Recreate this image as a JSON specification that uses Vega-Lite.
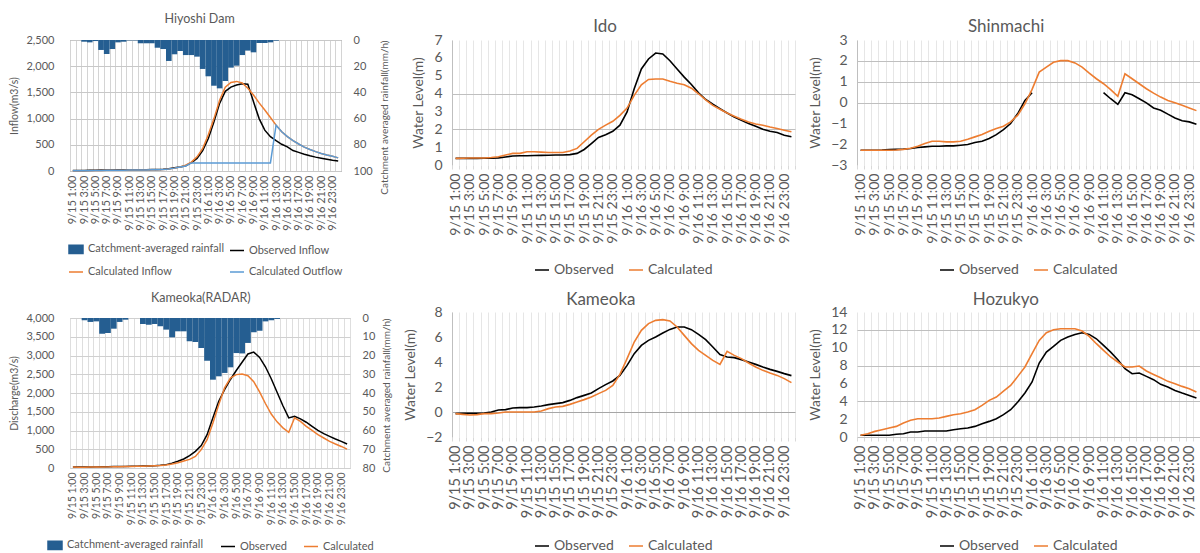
{
  "$schema": "https://vega.github.io/schema/vega-lite/v6.json",
  "background": "white",
  "padding": {"left": 9, "top": 12, "right": 0, "bottom": 0},
  "spacing": 10,
  "resolve": {"scale": {"color": "independent"}, "legend": {"color": "independent"}},
  "datasets": {
    "hiyoshi": [
      {"h":1,"rain":0,"Observed Inflow":10,"Calculated Inflow":5,"Calculated Outflow":5},
      {"h":2,"rain":0,"Observed Inflow":10,"Calculated Inflow":5,"Calculated Outflow":5},
      {"h":3,"rain":1.3,"Observed Inflow":10,"Calculated Inflow":5,"Calculated Outflow":5},
      {"h":4,"rain":1.8,"Observed Inflow":12,"Calculated Inflow":6,"Calculated Outflow":6},
      {"h":5,"rain":0.8,"Observed Inflow":14,"Calculated Inflow":8,"Calculated Outflow":8},
      {"h":6,"rain":7.6,"Observed Inflow":17,"Calculated Inflow":10,"Calculated Outflow":10},
      {"h":7,"rain":10.7,"Observed Inflow":19,"Calculated Inflow":12,"Calculated Outflow":12},
      {"h":8,"rain":6.9,"Observed Inflow":21,"Calculated Inflow":14,"Calculated Outflow":14},
      {"h":9,"rain":1.8,"Observed Inflow":22,"Calculated Inflow":15,"Calculated Outflow":15},
      {"h":10,"rain":1.3,"Observed Inflow":22,"Calculated Inflow":16,"Calculated Outflow":16},
      {"h":11,"rain":0.3,"Observed Inflow":22,"Calculated Inflow":17,"Calculated Outflow":17},
      {"h":12,"rain":0.3,"Observed Inflow":22,"Calculated Inflow":18,"Calculated Outflow":18},
      {"h":13,"rain":2.5,"Observed Inflow":23,"Calculated Inflow":19,"Calculated Outflow":19},
      {"h":14,"rain":2.5,"Observed Inflow":25,"Calculated Inflow":20,"Calculated Outflow":20},
      {"h":15,"rain":2.5,"Observed Inflow":27,"Calculated Inflow":22,"Calculated Outflow":22},
      {"h":16,"rain":5.9,"Observed Inflow":30,"Calculated Inflow":25,"Calculated Outflow":25},
      {"h":17,"rain":6.9,"Observed Inflow":35,"Calculated Inflow":30,"Calculated Outflow":30},
      {"h":18,"rain":16,"Observed Inflow":45,"Calculated Inflow":40,"Calculated Outflow":40},
      {"h":19,"rain":10.9,"Observed Inflow":60,"Calculated Inflow":55,"Calculated Outflow":55},
      {"h":20,"rain":8.4,"Observed Inflow":75,"Calculated Inflow":75,"Calculated Outflow":75},
      {"h":21,"rain":11.5,"Observed Inflow":100,"Calculated Inflow":110,"Calculated Outflow":95},
      {"h":22,"rain":11.5,"Observed Inflow":160,"Calculated Inflow":170,"Calculated Outflow":155},
      {"h":23,"rain":12.7,"Observed Inflow":240,"Calculated Inflow":270,"Calculated Outflow":155},
      {"h":24,"rain":22.1,"Observed Inflow":390,"Calculated Inflow":430,"Calculated Outflow":155},
      {"h":25,"rain":27.7,"Observed Inflow":620,"Calculated Inflow":690,"Calculated Outflow":155},
      {"h":26,"rain":34.9,"Observed Inflow":940,"Calculated Inflow":1000,"Calculated Outflow":155},
      {"h":27,"rain":36.9,"Observed Inflow":1290,"Calculated Inflow":1350,"Calculated Outflow":155},
      {"h":28,"rain":31.3,"Observed Inflow":1520,"Calculated Inflow":1600,"Calculated Outflow":155},
      {"h":29,"rain":21.1,"Observed Inflow":1600,"Calculated Inflow":1690,"Calculated Outflow":155},
      {"h":30,"rain":19.6,"Observed Inflow":1640,"Calculated Inflow":1710,"Calculated Outflow":155},
      {"h":31,"rain":11.5,"Observed Inflow":1665,"Calculated Inflow":1680,"Calculated Outflow":155},
      {"h":32,"rain":8.1,"Observed Inflow":1655,"Calculated Inflow":1580,"Calculated Outflow":155},
      {"h":33,"rain":9.4,"Observed Inflow":1320,"Calculated Inflow":1450,"Calculated Outflow":155},
      {"h":34,"rain":2.3,"Observed Inflow":1000,"Calculated Inflow":1300,"Calculated Outflow":155},
      {"h":35,"rain":2.3,"Observed Inflow":780,"Calculated Inflow":1165,"Calculated Outflow":155},
      {"h":36,"rain":1.8,"Observed Inflow":655,"Calculated Inflow":1020,"Calculated Outflow":155},
      {"h":37,"rain":0.5,"Observed Inflow":580,"Calculated Inflow":875,"Calculated Outflow":875},
      {"h":38,"rain":0,"Observed Inflow":510,"Calculated Inflow":750,"Calculated Outflow":750},
      {"h":39,"rain":0,"Observed Inflow":460,"Calculated Inflow":655,"Calculated Outflow":655},
      {"h":40,"rain":0,"Observed Inflow":390,"Calculated Inflow":580,"Calculated Outflow":580},
      {"h":41,"rain":0,"Observed Inflow":355,"Calculated Inflow":515,"Calculated Outflow":515},
      {"h":42,"rain":0,"Observed Inflow":320,"Calculated Inflow":455,"Calculated Outflow":455},
      {"h":43,"rain":0,"Observed Inflow":290,"Calculated Inflow":410,"Calculated Outflow":410},
      {"h":44,"rain":0,"Observed Inflow":265,"Calculated Inflow":370,"Calculated Outflow":370},
      {"h":45,"rain":0,"Observed Inflow":245,"Calculated Inflow":335,"Calculated Outflow":335},
      {"h":46,"rain":0,"Observed Inflow":225,"Calculated Inflow":305,"Calculated Outflow":305},
      {"h":47,"rain":0,"Observed Inflow":205,"Calculated Inflow":280,"Calculated Outflow":280},
      {"h":48,"rain":0,"Observed Inflow":190,"Calculated Inflow":250,"Calculated Outflow":250}
    ],
    "radar": [
      {"h":1,"rain":0,"Observed":25,"Calculated":25},
      {"h":2,"rain":0,"Observed":25,"Calculated":22},
      {"h":3,"rain":1.2,"Observed":27,"Calculated":22},
      {"h":4,"rain":2.1,"Observed":28,"Calculated":24},
      {"h":5,"rain":1.8,"Observed":30,"Calculated":25},
      {"h":6,"rain":8.4,"Observed":33,"Calculated":27},
      {"h":7,"rain":8,"Observed":36,"Calculated":30},
      {"h":8,"rain":5.7,"Observed":38,"Calculated":33},
      {"h":9,"rain":2.1,"Observed":40,"Calculated":36},
      {"h":10,"rain":0.9,"Observed":43,"Calculated":39},
      {"h":11,"rain":0,"Observed":45,"Calculated":42},
      {"h":12,"rain":0,"Observed":48,"Calculated":45},
      {"h":13,"rain":3.2,"Observed":52,"Calculated":48},
      {"h":14,"rain":3.6,"Observed":56,"Calculated":52},
      {"h":15,"rain":3.2,"Observed":62,"Calculated":58},
      {"h":16,"rain":4.4,"Observed":72,"Calculated":66},
      {"h":17,"rain":6.2,"Observed":90,"Calculated":80},
      {"h":18,"rain":10.3,"Observed":130,"Calculated":105},
      {"h":19,"rain":7.1,"Observed":180,"Calculated":140},
      {"h":20,"rain":7.1,"Observed":240,"Calculated":185},
      {"h":21,"rain":12.4,"Observed":330,"Calculated":230},
      {"h":22,"rain":12.8,"Observed":445,"Calculated":310},
      {"h":23,"rain":16,"Observed":600,"Calculated":490},
      {"h":24,"rain":22.8,"Observed":890,"Calculated":755},
      {"h":25,"rain":32.9,"Observed":1340,"Calculated":1200},
      {"h":26,"rain":31.1,"Observed":1780,"Calculated":1690},
      {"h":27,"rain":29.3,"Observed":2090,"Calculated":2135},
      {"h":28,"rain":26.3,"Observed":2360,"Calculated":2400},
      {"h":29,"rain":18.7,"Observed":2600,"Calculated":2490},
      {"h":30,"rain":18.9,"Observed":2820,"Calculated":2505},
      {"h":31,"rain":13.3,"Observed":3040,"Calculated":2460},
      {"h":32,"rain":7.6,"Observed":3090,"Calculated":2300},
      {"h":33,"rain":6.8,"Observed":2950,"Calculated":2030},
      {"h":34,"rain":1.8,"Observed":2700,"Calculated":1720},
      {"h":35,"rain":1.2,"Observed":2380,"Calculated":1440},
      {"h":36,"rain":0.5,"Observed":2020,"Calculated":1230},
      {"h":37,"rain":0,"Observed":1660,"Calculated":1070},
      {"h":38,"rain":0,"Observed":1335,"Calculated":950},
      {"h":39,"rain":0,"Observed":1380,"Calculated":1340},
      {"h":40,"rain":0,"Observed":1310,"Calculated":1245},
      {"h":41,"rain":0,"Observed":1220,"Calculated":1110},
      {"h":42,"rain":0,"Observed":1110,"Calculated":1005},
      {"h":43,"rain":0,"Observed":1005,"Calculated":890},
      {"h":44,"rain":0,"Observed":915,"Calculated":800},
      {"h":45,"rain":0,"Observed":845,"Calculated":710},
      {"h":46,"rain":0,"Observed":775,"Calculated":640},
      {"h":47,"rain":0,"Observed":710,"Calculated":575},
      {"h":48,"rain":0,"Observed":640,"Calculated":505}
    ],
    "ido": [
      {"h":1,"Observed":0.37,"Calculated":0.37},{"h":2,"Observed":0.37,"Calculated":0.38},
      {"h":3,"Observed":0.37,"Calculated":0.39},{"h":4,"Observed":0.37,"Calculated":0.39},
      {"h":5,"Observed":0.38,"Calculated":0.39},{"h":6,"Observed":0.38,"Calculated":0.42},
      {"h":7,"Observed":0.4,"Calculated":0.46},{"h":8,"Observed":0.45,"Calculated":0.56},
      {"h":9,"Observed":0.5,"Calculated":0.65},{"h":10,"Observed":0.52,"Calculated":0.65},
      {"h":11,"Observed":0.52,"Calculated":0.74},{"h":12,"Observed":0.53,"Calculated":0.74},
      {"h":13,"Observed":0.54,"Calculated":0.72},{"h":14,"Observed":0.55,"Calculated":0.7},
      {"h":15,"Observed":0.56,"Calculated":0.7},{"h":16,"Observed":0.56,"Calculated":0.7},
      {"h":17,"Observed":0.58,"Calculated":0.78},{"h":18,"Observed":0.65,"Calculated":0.93},
      {"h":19,"Observed":0.87,"Calculated":1.3},{"h":20,"Observed":1.2,"Calculated":1.67},
      {"h":21,"Observed":1.54,"Calculated":2.0},{"h":22,"Observed":1.7,"Calculated":2.23},
      {"h":23,"Observed":1.89,"Calculated":2.45},{"h":24,"Observed":2.23,"Calculated":2.78},
      {"h":25,"Observed":2.97,"Calculated":3.19},{"h":26,"Observed":4.27,"Calculated":3.9},
      {"h":27,"Observed":5.38,"Calculated":4.49},{"h":28,"Observed":5.94,"Calculated":4.79},
      {"h":29,"Observed":6.27,"Calculated":4.82},{"h":30,"Observed":6.22,"Calculated":4.82},
      {"h":31,"Observed":5.84,"Calculated":4.69},{"h":32,"Observed":5.38,"Calculated":4.58},
      {"h":33,"Observed":4.92,"Calculated":4.49},{"h":34,"Observed":4.51,"Calculated":4.3},
      {"h":35,"Observed":4.04,"Calculated":3.99},{"h":36,"Observed":3.67,"Calculated":3.65},
      {"h":37,"Observed":3.4,"Calculated":3.34},{"h":38,"Observed":3.15,"Calculated":3.12},
      {"h":39,"Observed":2.91,"Calculated":2.91},{"h":40,"Observed":2.69,"Calculated":2.73},
      {"h":41,"Observed":2.5,"Calculated":2.56},{"h":42,"Observed":2.32,"Calculated":2.41},
      {"h":43,"Observed":2.17,"Calculated":2.3},{"h":44,"Observed":2.0,"Calculated":2.23},
      {"h":45,"Observed":1.89,"Calculated":2.13},{"h":46,"Observed":1.82,"Calculated":2.04},
      {"h":47,"Observed":1.67,"Calculated":1.95},{"h":48,"Observed":1.58,"Calculated":1.86}
    ],
    "shinmachi": [
      {"h":1,"Observed":-2.29,"Calculated":-2.29},{"h":2,"Observed":-2.29,"Calculated":-2.29},
      {"h":3,"Observed":-2.29,"Calculated":-2.29},{"h":4,"Observed":-2.28,"Calculated":-2.29},
      {"h":5,"Observed":-2.26,"Calculated":-2.29},{"h":6,"Observed":-2.25,"Calculated":-2.28},
      {"h":7,"Observed":-2.24,"Calculated":-2.25},{"h":8,"Observed":-2.21,"Calculated":-2.2},
      {"h":9,"Observed":-2.16,"Calculated":-2.1},{"h":10,"Observed":-2.13,"Calculated":-1.97},
      {"h":11,"Observed":-2.1,"Calculated":-1.86},{"h":12,"Observed":-2.1,"Calculated":-1.86},
      {"h":13,"Observed":-2.08,"Calculated":-1.89},{"h":14,"Observed":-2.08,"Calculated":-1.89},
      {"h":15,"Observed":-2.05,"Calculated":-1.86},{"h":16,"Observed":-2.02,"Calculated":-1.76},
      {"h":17,"Observed":-1.92,"Calculated":-1.65},{"h":18,"Observed":-1.86,"Calculated":-1.54},
      {"h":19,"Observed":-1.73,"Calculated":-1.38},{"h":20,"Observed":-1.54,"Calculated":-1.25},
      {"h":21,"Observed":-1.3,"Calculated":-1.14},{"h":22,"Observed":-1.01,"Calculated":-0.93},
      {"h":23,"Observed":-0.53,"Calculated":-0.61},{"h":24,"Observed":0.1,"Calculated":-0.06},
      {"h":25,"Observed":0.47,"Calculated":0.63},{"h":26,"Observed":null,"Calculated":1.46},
      {"h":27,"Observed":null,"Calculated":1.7},{"h":28,"Observed":null,"Calculated":1.93},
      {"h":29,"Observed":null,"Calculated":2.01},{"h":30,"Observed":null,"Calculated":2.01},
      {"h":31,"Observed":null,"Calculated":1.9},{"h":32,"Observed":null,"Calculated":1.7},
      {"h":33,"Observed":null,"Calculated":1.41},{"h":34,"Observed":null,"Calculated":1.14},
      {"h":35,"Observed":0.47,"Calculated":0.9},{"h":36,"Observed":0.18,"Calculated":0.62},
      {"h":37,"Observed":-0.09,"Calculated":0.3},{"h":38,"Observed":0.47,"Calculated":1.38},
      {"h":39,"Observed":0.37,"Calculated":1.14},{"h":40,"Observed":0.18,"Calculated":0.9},
      {"h":41,"Observed":-0.02,"Calculated":0.66},{"h":42,"Observed":-0.26,"Calculated":0.45},
      {"h":43,"Observed":-0.37,"Calculated":0.26},{"h":44,"Observed":-0.56,"Calculated":0.1},
      {"h":45,"Observed":-0.74,"Calculated":-0.01},{"h":46,"Observed":-0.88,"Calculated":-0.13},
      {"h":47,"Observed":-0.93,"Calculated":-0.26},{"h":48,"Observed":-1.04,"Calculated":-0.39}
    ],
    "kameoka": [
      {"h":1,"Observed":-0.13,"Calculated":-0.13},{"h":2,"Observed":-0.1,"Calculated":-0.19},
      {"h":3,"Observed":-0.1,"Calculated":-0.24},{"h":4,"Observed":-0.1,"Calculated":-0.21},
      {"h":5,"Observed":-0.08,"Calculated":-0.13},{"h":6,"Observed":0,"Calculated":-0.13},
      {"h":7,"Observed":0.16,"Calculated":-0.08},{"h":8,"Observed":0.19,"Calculated":0},
      {"h":9,"Observed":0.32,"Calculated":0},{"h":10,"Observed":0.35,"Calculated":0},
      {"h":11,"Observed":0.35,"Calculated":0},{"h":12,"Observed":0.4,"Calculated":0},
      {"h":13,"Observed":0.48,"Calculated":0.08},{"h":14,"Observed":0.59,"Calculated":0.27},
      {"h":15,"Observed":0.67,"Calculated":0.4},{"h":16,"Observed":0.75,"Calculated":0.45},
      {"h":17,"Observed":0.93,"Calculated":0.61},{"h":18,"Observed":1.15,"Calculated":0.8},
      {"h":19,"Observed":1.33,"Calculated":0.99},{"h":20,"Observed":1.52,"Calculated":1.2},
      {"h":21,"Observed":1.87,"Calculated":1.47},{"h":22,"Observed":2.19,"Calculated":1.73},
      {"h":23,"Observed":2.48,"Calculated":2.13},{"h":24,"Observed":2.93,"Calculated":3.01},
      {"h":25,"Observed":3.73,"Calculated":4.27},{"h":26,"Observed":4.67,"Calculated":5.6},
      {"h":27,"Observed":5.33,"Calculated":6.53},{"h":28,"Observed":5.73,"Calculated":7.07},
      {"h":29,"Observed":6.0,"Calculated":7.33},{"h":30,"Observed":6.32,"Calculated":7.39},
      {"h":31,"Observed":6.61,"Calculated":7.28},{"h":32,"Observed":6.8,"Calculated":6.8},
      {"h":33,"Observed":6.8,"Calculated":6.13},{"h":34,"Observed":6.59,"Calculated":5.47},
      {"h":35,"Observed":6.21,"Calculated":4.93},{"h":36,"Observed":5.79,"Calculated":4.53},
      {"h":37,"Observed":5.2,"Calculated":4.13},{"h":38,"Observed":4.6,"Calculated":3.81},
      {"h":39,"Observed":4.4,"Calculated":4.85},{"h":40,"Observed":4.35,"Calculated":4.53},
      {"h":41,"Observed":4.19,"Calculated":4.27},{"h":42,"Observed":4.0,"Calculated":3.92},
      {"h":43,"Observed":3.81,"Calculated":3.6},{"h":44,"Observed":3.6,"Calculated":3.33},
      {"h":45,"Observed":3.41,"Calculated":3.12},{"h":46,"Observed":3.25,"Calculated":2.93},
      {"h":47,"Observed":3.07,"Calculated":2.67},{"h":48,"Observed":2.91,"Calculated":2.35}
    ],
    "hozukyo": [
      {"h":1,"Observed":0.19,"Calculated":0.19},{"h":2,"Observed":0.19,"Calculated":0.37},
      {"h":3,"Observed":0.19,"Calculated":0.63},{"h":4,"Observed":0.19,"Calculated":0.82},
      {"h":5,"Observed":0.19,"Calculated":1.0},{"h":6,"Observed":0.3,"Calculated":1.19},
      {"h":7,"Observed":0.37,"Calculated":1.57},{"h":8,"Observed":0.56,"Calculated":1.87},
      {"h":9,"Observed":0.56,"Calculated":2.05},{"h":10,"Observed":0.67,"Calculated":2.05},
      {"h":11,"Observed":0.67,"Calculated":2.05},{"h":12,"Observed":0.67,"Calculated":2.13},
      {"h":13,"Observed":0.67,"Calculated":2.31},{"h":14,"Observed":0.82,"Calculated":2.5},
      {"h":15,"Observed":0.93,"Calculated":2.61},{"h":16,"Observed":1.0,"Calculated":2.8},
      {"h":17,"Observed":1.19,"Calculated":3.06},{"h":18,"Observed":1.49,"Calculated":3.54},
      {"h":19,"Observed":1.75,"Calculated":4.1},{"h":20,"Observed":2.05,"Calculated":4.48},
      {"h":21,"Observed":2.5,"Calculated":5.15},{"h":22,"Observed":3.06,"Calculated":5.78},
      {"h":23,"Observed":3.92,"Calculated":6.79},{"h":24,"Observed":4.93,"Calculated":7.84},
      {"h":25,"Observed":6.16,"Calculated":9.33},{"h":26,"Observed":8.28,"Calculated":10.82},
      {"h":27,"Observed":9.51,"Calculated":11.68},{"h":28,"Observed":10.15,"Calculated":12.01},
      {"h":29,"Observed":10.82,"Calculated":12.13},{"h":30,"Observed":11.19,"Calculated":12.13},
      {"h":31,"Observed":11.49,"Calculated":12.13},{"h":32,"Observed":11.68,"Calculated":11.87},
      {"h":33,"Observed":11.49,"Calculated":11.27},{"h":34,"Observed":11.0,"Calculated":10.45},
      {"h":35,"Observed":10.26,"Calculated":9.7},{"h":36,"Observed":9.51,"Calculated":8.96},
      {"h":37,"Observed":8.66,"Calculated":8.4},{"h":38,"Observed":7.65,"Calculated":7.84},
      {"h":39,"Observed":7.09,"Calculated":7.84},{"h":40,"Observed":7.16,"Calculated":7.95},
      {"h":41,"Observed":6.79,"Calculated":7.39},{"h":42,"Observed":6.42,"Calculated":7.01},
      {"h":43,"Observed":5.9,"Calculated":6.64},{"h":44,"Observed":5.6,"Calculated":6.23},
      {"h":45,"Observed":5.22,"Calculated":5.97},{"h":46,"Observed":4.93,"Calculated":5.67},
      {"h":47,"Observed":4.66,"Calculated":5.41},{"h":48,"Observed":4.37,"Calculated":5.04}
    ]
  },
  "hconcat": [
    {
      "vconcat": [
        {
          "title": {"text": "Hiyoshi Dam", "fontSize": 12.5, "offset": 9},
          "width": 271, "height": 131,
          "view": {"stroke": "#808080"},
          "data": {"name": "hiyoshi"},
          "resolve": {"scale": {"y": "independent"}},
          "layer": [
            {
              "mark": {"type": "bar", "color": "#255E91"},
              "encoding": {
                "x": {"field": "h", "type": "ordinal", "scale": {"type": "band", "paddingInner": 0, "paddingOuter": 0},
                  "axis": {"title": null, "labelAngle": -90, "labelFontSize": 11, "labelOverlap": false, "tickBand": "extent", "grid": true, "gridColor": "#d4d4d4", "ticks": false, "domain": false, "labelPadding": 4,
                    "labelExpr": "datum.value % 2 === 1 ? (datum.value < 24 ? '9/15 ' + datum.value : '9/16 ' + (datum.value - 24)) + ':00' : ''"}},
                "y": {"field": "rain", "type": "quantitative", "scale": {"domain": [0, 100], "reverse": true, "nice": false},
                  "axis": {"orient": "right", "title": "Catchment averaged rainfall(mm/h)", "values": [0, 20, 40, 60, 80, 100], "grid": false, "domain": false, "ticks": false, "labelFontSize": 11, "titleFontSize": 10, "titleAngle": 270, "titleAnchor": "start", "titleAlign": "right", "titleBaseline": "top", "titlePadding": 7, "labelPadding": 12}},
                "color": {"datum": "Catchment-averaged rainfall", "type": "nominal"}
              }
            },
            {
              "transform": [{"fold": ["Observed Inflow", "Calculated Inflow", "Calculated Outflow"], "as": ["series", "flow"]}],
              "mark": {"type": "line", "strokeWidth": 1.5},
              "encoding": {
                "x": {"field": "h", "type": "ordinal", "scale": {"type": "band", "paddingInner": 0, "paddingOuter": 0}},
                "y": {"field": "flow", "type": "quantitative", "scale": {"domain": [0, 2500], "nice": false},
                  "axis": {"orient": "left", "title": "Inflow(m3/s)", "values": [0, 500, 1000, 1500, 2000, 2500], "format": ",.0f", "grid": true, "gridColor": "#c8c8c8", "domain": false, "ticks": false, "labelFontSize": 11, "titleFontSize": 10.5, "labelPadding": 16, "titlePadding": 6}},
                "color": {"field": "series", "type": "nominal",
                  "scale": {"domain": ["Catchment-averaged rainfall", "Observed Inflow", "Calculated Inflow", "Calculated Outflow"], "range": ["#255E91", "#000000", "#ED7D31", "#5B9BD5"]},
                  "legend": {"title": null, "orient": "bottom", "direction": "horizontal", "columns": 2, "columnPadding": 2, "rowPadding": 7, "labelFontSize": 11, "symbolSize": 196, "labelLimit": 220, "offset": 10,
                    "encode": {"symbols": {"update": {
                      "shape": {"signal": "datum.value === 'Catchment-averaged rainfall' ? 'M-1,-0.6H1V0.6H-1Z' : 'stroke'"},
                      "fill": {"signal": "datum.value === 'Catchment-averaged rainfall' ? '#255E91' : 'transparent'"},
                      "stroke": {"signal": "datum.value === 'Catchment-averaged rainfall' ? '#255E91' : datum.value === 'Calculated Outflow' ? '#5B9BD5' : datum.value === 'Calculated Inflow' ? '#ED7D31' : '#000000'"},
                      "strokeWidth": {"value": 1.5}}}}}
                }
              }
            }
          ]
        },
        {
          "title": {"text": "Kameoka(RADAR)", "fontSize": 12.5, "offset": 8},
          "width": 280, "height": 150,
          "view": {"stroke": "#bfbfbf"},
          "data": {"name": "radar"},
          "resolve": {"scale": {"y": "independent"}},
          "layer": [
            {
              "mark": {"type": "bar", "color": "#255E91"},
              "encoding": {
                "x": {"field": "h", "type": "ordinal", "scale": {"type": "band", "paddingInner": 0, "paddingOuter": 0},
                  "axis": {"title": null, "labelAngle": -90, "labelFontSize": 10.5, "labelOverlap": false, "tickBand": "extent", "grid": true, "gridColor": "#dedede", "ticks": false, "domain": false, "labelPadding": 4,
                    "labelExpr": "datum.value % 2 === 1 ? (datum.value < 24 ? '9/15 ' + datum.value : '9/16 ' + (datum.value - 24)) + ':00' : ''"}},
                "y": {"field": "rain", "type": "quantitative", "scale": {"domain": [0, 80], "reverse": true, "nice": false},
                  "axis": {"orient": "right", "title": "Catchment averaged rainfall(mm/h)", "values": [0, 10, 20, 30, 40, 50, 60, 70, 80], "grid": false, "domain": false, "ticks": false, "labelFontSize": 11, "titleFontSize": 10, "titleAngle": 270, "titleAnchor": "start", "titleAlign": "right", "titleBaseline": "top", "titlePadding": 7, "labelPadding": 12}},
                "color": {"datum": "Catchment-averaged rainfall", "type": "nominal"}
              }
            },
            {
              "transform": [{"fold": ["Observed", "Calculated"], "as": ["series", "flow"]}],
              "mark": {"type": "line", "strokeWidth": 1.5},
              "encoding": {
                "x": {"field": "h", "type": "ordinal", "scale": {"type": "band", "paddingInner": 0, "paddingOuter": 0}},
                "y": {"field": "flow", "type": "quantitative", "scale": {"domain": [0, 4000], "nice": false},
                  "axis": {"orient": "left", "title": "Discharge(m3/s)", "values": [0, 500, 1000, 1500, 2000, 2500, 3000, 3500, 4000], "format": ",.0f", "grid": true, "gridColor": "#d0d0d0", "domain": false, "ticks": false, "labelFontSize": 11, "titleFontSize": 10.5, "labelPadding": 16, "titlePadding": 6}},
                "color": {"field": "series", "type": "nominal",
                  "scale": {"domain": ["Catchment-averaged rainfall", "Observed", "Calculated"], "range": ["#255E91", "#000000", "#ED7D31"]},
                  "legend": {"title": null, "orient": "bottom", "direction": "horizontal", "columnPadding": 14, "labelFontSize": 11, "symbolSize": 196, "labelLimit": 220, "offset": 12,
                    "encode": {"symbols": {"update": {
                      "shape": {"signal": "datum.value === 'Catchment-averaged rainfall' ? 'M-1,-0.6H1V0.6H-1Z' : 'stroke'"},
                      "fill": {"signal": "datum.value === 'Catchment-averaged rainfall' ? '#255E91' : 'transparent'"},
                      "stroke": {"signal": "datum.value === 'Catchment-averaged rainfall' ? '#255E91' : datum.value === 'Calculated' ? '#ED7D31' : '#000000'"},
                      "strokeWidth": {"value": 1.5}}}}}
                }
              }
            }
          ]
        }
      ],
      "spacing": 13,
      "resolve": {"scale": {"color": "independent"}, "legend": {"color": "independent"}}
    },
    {
      "hconcat": [
        {
          "vconcat": [
            {
              "title": {"text": "Ido", "fontSize": 17, "offset": -3},
              "width": 343, "height": 125,
              "data": {"name": "ido"},
              "transform": [{"fold": ["Observed", "Calculated"], "as": ["series", "level"]}],
              "mark": {"type": "line", "strokeWidth": 1.6},
              "encoding": {
                "x": {"field": "h", "type": "ordinal", "scale": {"type": "band", "paddingInner": 0, "paddingOuter": 0},
                  "axis": {"title": null, "labelAngle": -90, "labelFontSize": 14, "labelOverlap": false, "tickBand": "extent", "grid": true, "gridColor": "#e6e6e6", "ticks": true, "tickSize": 4, "tickColor": "#d9d9d9", "domain": false, "labelPadding": 4,
                    "labelExpr": "datum.value % 2 === 1 ? (datum.value < 24 ? '9/15 ' + datum.value : '9/16 ' + (datum.value - 24)) + ':00' : ''"}},
                "y": {"field": "level", "type": "quantitative", "scale": {"domain": [0, 7], "nice": false},
                  "axis": {"title": "Water Level(m)", "values": [0, 1, 2, 3, 4, 5, 6, 7], "grid": true, "gridColor": "#bfbfbf",
                    "gridOpacity": {"condition": {"test": "datum.value === 2 || datum.value === 4", "value": 1}, "value": 0},
                    "domain": true, "domainColor": "#bfbfbf", "ticks": false, "labelFontSize": 14, "titleFontSize": 14, "labelPadding": 10, "titlePadding": 8}},
                "color": {"field": "series", "type": "nominal", "scale": {"domain": ["Observed", "Calculated"], "range": ["#000000", "#ED7D31"]},
                  "legend": {"title": null, "orient": "bottom", "direction": "horizontal", "symbolType": "stroke", "symbolStrokeWidth": 1.5, "symbolSize": 196, "labelFontSize": 14, "columnPadding": 12, "offset": 18}}
              }
            },
            {
              "title": {"text": "Kameoka", "fontSize": 17, "offset": -4},
              "width": 343, "height": 125,
              "data": {"name": "kameoka"},
              "transform": [{"fold": ["Observed", "Calculated"], "as": ["series", "level"]}],
              "mark": {"type": "line", "strokeWidth": 1.6},
              "encoding": {
                "x": {"field": "h", "type": "ordinal", "scale": {"type": "band", "paddingInner": 0, "paddingOuter": 0},
                  "axis": {"title": null, "labelAngle": -90, "labelFontSize": 14.5, "labelOverlap": false, "tickBand": "extent", "grid": true, "gridColor": "#e6e6e6", "ticks": true, "tickSize": 4, "tickColor": "#d9d9d9", "domain": false, "labelPadding": 4,
                    "labelExpr": "datum.value % 2 === 1 ? (datum.value < 24 ? '9/15 ' + datum.value : '9/16 ' + (datum.value - 24)) + ':00' : ''"}},
                "y": {"field": "level", "type": "quantitative", "scale": {"domain": [-2, 8], "nice": false},
                  "axis": {"title": "Water Level(m)", "values": [-2, 0, 2, 4, 6, 8], "grid": true, "gridColor": "#a6a6a6",
                    "gridOpacity": {"condition": {"test": "datum.value === 0", "value": 1}, "value": 0},
                    "domain": true, "domainColor": "#bfbfbf", "ticks": false, "labelFontSize": 14, "titleFontSize": 14, "labelPadding": 10, "titlePadding": 8}},
                "color": {"field": "series", "type": "nominal", "scale": {"domain": ["Observed", "Calculated"], "range": ["#000000", "#ED7D31"]},
                  "legend": {"title": null, "orient": "bottom", "direction": "horizontal", "symbolType": "stroke", "symbolStrokeWidth": 1.5, "symbolSize": 196, "labelFontSize": 14, "columnPadding": 12, "offset": 20}}
              }
            }
          ],
          "spacing": 14,
          "resolve": {"scale": {"color": "independent"}, "legend": {"color": "independent"}}
        },
        {
          "vconcat": [
            {
              "title": {"text": "Shinmachi", "fontSize": 17, "offset": -3},
              "width": 343, "height": 125,
              "data": {"name": "shinmachi"},
              "transform": [{"fold": ["Observed", "Calculated"], "as": ["series", "level"]}],
              "mark": {"type": "line", "strokeWidth": 1.6, "invalid": "break-paths-show-domains"},
              "encoding": {
                "x": {"field": "h", "type": "ordinal", "scale": {"type": "band", "paddingInner": 0, "paddingOuter": 0},
                  "axis": {"title": null, "labelAngle": -90, "labelFontSize": 14, "labelOverlap": false, "tickBand": "extent", "grid": true, "gridColor": "#e6e6e6", "ticks": true, "tickSize": 4, "tickColor": "#d9d9d9", "domain": false, "labelPadding": 4,
                    "labelExpr": "datum.value % 2 === 1 ? (datum.value < 24 ? '9/15 ' + datum.value : '9/16 ' + (datum.value - 24)) + ':00' : ''"}},
                "y": {"field": "level", "type": "quantitative", "scale": {"domain": [-3, 3], "nice": false},
                  "axis": {"title": "Water Level(m)", "values": [-3, -2, -1, 0, 1, 2, 3], "grid": true, "gridColor": "#bfbfbf",
                    "gridOpacity": {"condition": {"test": "datum.value === 0 || datum.value === 1 || datum.value === 2", "value": 1}, "value": 0},
                    "domain": true, "domainColor": "#bfbfbf", "ticks": false, "labelFontSize": 14, "titleFontSize": 14, "labelPadding": 10, "titlePadding": 8}},
                "color": {"field": "series", "type": "nominal", "scale": {"domain": ["Observed", "Calculated"], "range": ["#000000", "#ED7D31"]},
                  "legend": {"title": null, "orient": "bottom", "direction": "horizontal", "symbolType": "stroke", "symbolStrokeWidth": 1.5, "symbolSize": 196, "labelFontSize": 14, "columnPadding": 12, "offset": 18}}
              }
            },
            {
              "title": {"text": "Hozukyo", "fontSize": 17, "offset": -4},
              "width": 343, "height": 125,
              "data": {"name": "hozukyo"},
              "transform": [{"fold": ["Observed", "Calculated"], "as": ["series", "level"]}],
              "mark": {"type": "line", "strokeWidth": 1.6},
              "encoding": {
                "x": {"field": "h", "type": "ordinal", "scale": {"type": "band", "paddingInner": 0, "paddingOuter": 0},
                  "axis": {"title": null, "labelAngle": -90, "labelFontSize": 14.5, "labelOverlap": false, "tickBand": "extent", "grid": true, "gridColor": "#e6e6e6", "ticks": true, "tickSize": 4, "tickColor": "#d9d9d9", "domain": true, "domainColor": "#bfbfbf", "labelPadding": 4,
                    "labelExpr": "datum.value % 2 === 1 ? (datum.value < 24 ? '9/15 ' + datum.value : '9/16 ' + (datum.value - 24)) + ':00' : ''"}},
                "y": {"field": "level", "type": "quantitative", "scale": {"domain": [0, 14], "nice": false},
                  "axis": {"title": "Water Level(m)", "values": [0, 2, 4, 6, 8, 10, 12, 14], "grid": true, "gridColor": "#bfbfbf",
                    "gridOpacity": {"condition": {"test": "datum.value === 4 || datum.value === 8 || datum.value === 12", "value": 1}, "value": 0},
                    "domain": false, "ticks": false, "labelFontSize": 14, "titleFontSize": 14, "labelPadding": 10, "titlePadding": 8}},
                "color": {"field": "series", "type": "nominal", "scale": {"domain": ["Observed", "Calculated"], "range": ["#000000", "#ED7D31"]},
                  "legend": {"title": null, "orient": "bottom", "direction": "horizontal", "symbolType": "stroke", "symbolStrokeWidth": 1.5, "symbolSize": 196, "labelFontSize": 14, "columnPadding": 12, "offset": 20}}
              }
            }
          ],
          "spacing": 14,
          "resolve": {"scale": {"color": "independent"}, "legend": {"color": "independent"}}
        }
      ],
      "spacing": 9,
      "resolve": {"scale": {"color": "independent"}, "legend": {"color": "independent"}}
    }
  ],
  "config": {
    "font": "Lato",
    "view": {"stroke": null},
    "title": {"font": "Lato", "fontWeight": "normal", "color": "#595959", "anchor": "middle", "frame": "bounds"},
    "axis": {"labelFont": "Lato", "titleFont": "Lato", "labelColor": "#595959", "titleColor": "#595959", "titleFontWeight": "normal", "domainColor": "#bfbfbf", "tickColor": "#d9d9d9"},
    "legend": {"labelFont": "Lato", "labelColor": "#595959", "layout": {"bottom": {"anchor": "middle", "bounds": "full"}}}
  }
}
